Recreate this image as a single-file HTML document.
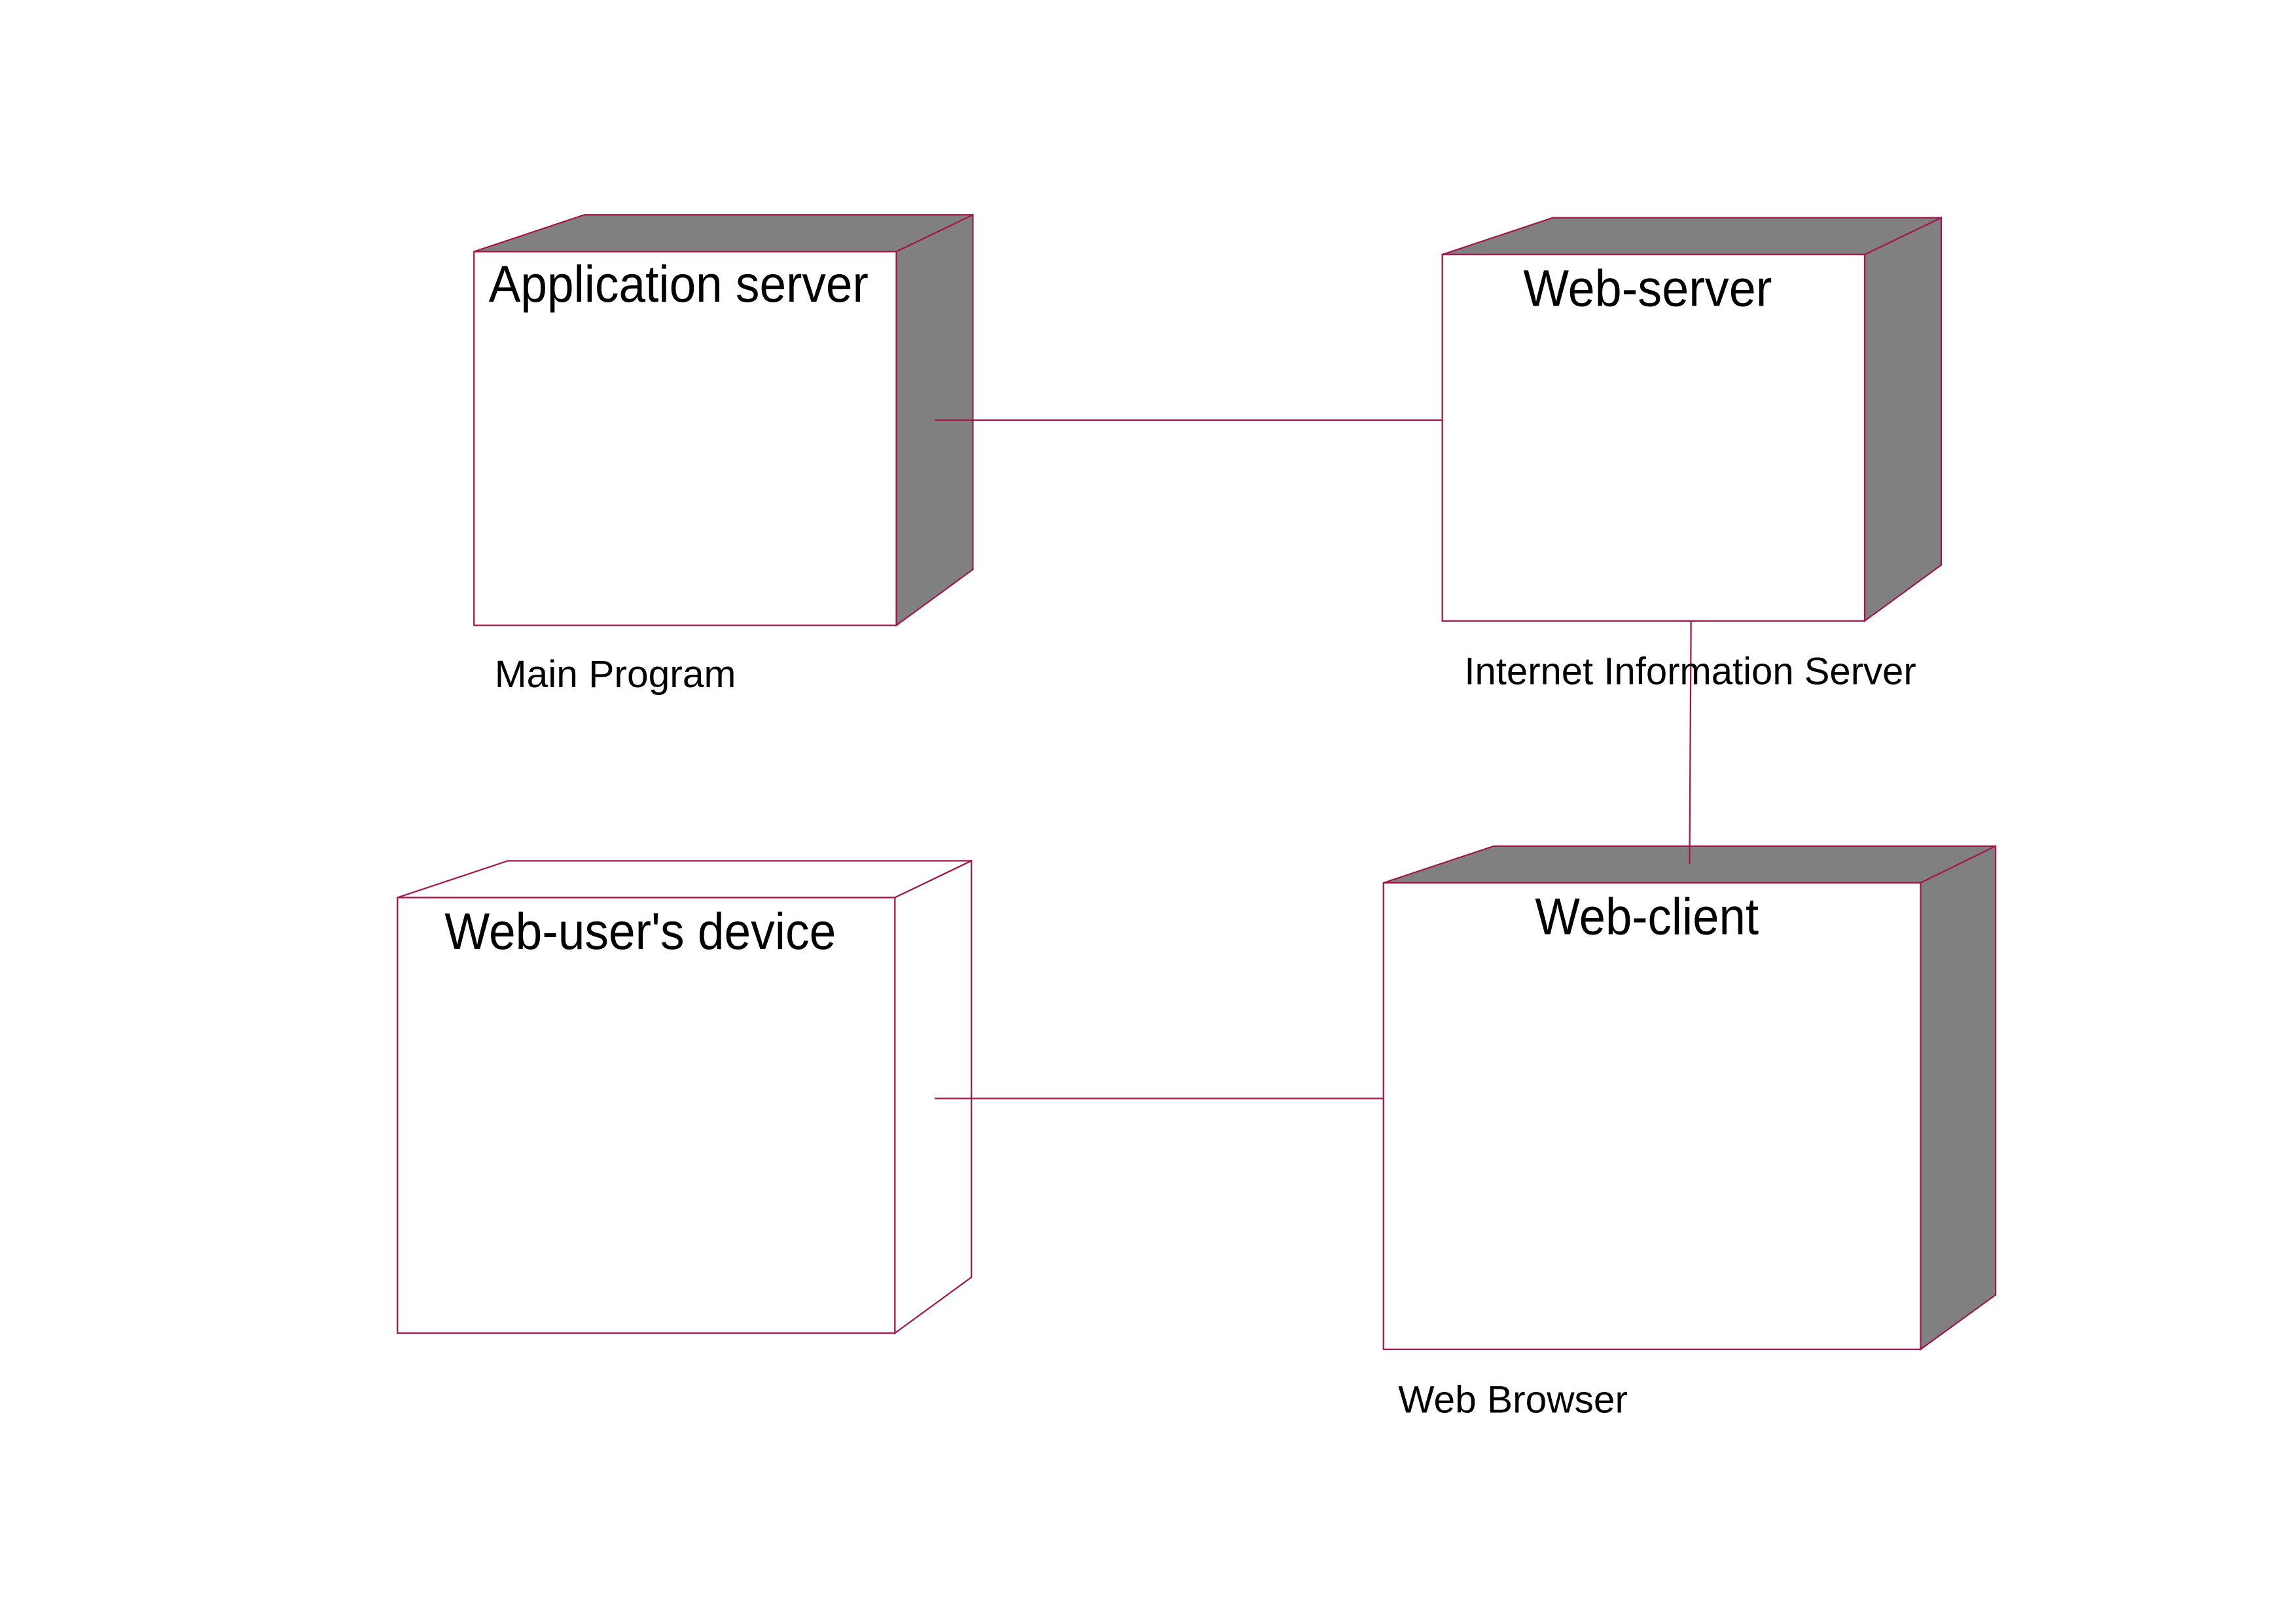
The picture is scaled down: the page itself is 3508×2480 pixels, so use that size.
<!DOCTYPE html>
<html><head><meta charset="utf-8"><style>
html,body{margin:0;padding:0;background:#fff;}
svg{display:block;}
text{font-family:"Liberation Sans",Arial,sans-serif;fill:#000;}
</style></head><body>
<svg width="3508" height="2480" viewBox="0 0 1560 1103" xmlns="http://www.w3.org/2000/svg">
<rect width="1560" height="1103" fill="#fff"/>
<g stroke="#a3184c" stroke-width="1" stroke-linejoin="miter">
<polygon points="322,171 397,146 661,146 609,171" fill="#808080"/>
<polygon points="609,171 661,146 661,387 609,425" fill="#808080"/>
<rect x="322" y="171" width="287" height="254" fill="#fff"/>
<polygon points="980,173 1055,148 1319,148 1267,173" fill="#808080"/>
<polygon points="1267,173 1319,148 1319,384 1267,422" fill="#808080"/>
<rect x="980" y="173" width="287" height="249" fill="#fff"/>
<polygon points="270,610 345,585 660,585 608,610" fill="#fff"/>
<polygon points="608,610 660,585 660,868 608,906" fill="#fff"/>
<rect x="270" y="610" width="338" height="296" fill="#fff"/>
<polygon points="940,600 1015,575 1356,575 1305,600" fill="#808080"/>
<polygon points="1305,600 1356,575 1356,880 1305,917" fill="#808080"/>
<rect x="940" y="600" width="365" height="317" fill="#fff"/>
<line x1="635" y1="285.5" x2="980" y2="285.5"/>
<line x1="1149" y1="422" x2="1148" y2="587"/>
<line x1="635" y1="746.5" x2="940" y2="746.5"/>
</g>
<g lengthAdjust="spacingAndGlyphs">
<text x="332" y="205" font-size="35" textLength="258" lengthAdjust="spacingAndGlyphs">Application server</text>
<text x="1035" y="208" font-size="35" textLength="169" lengthAdjust="spacingAndGlyphs">Web-server</text>
<text x="302" y="645" font-size="35" textLength="266" lengthAdjust="spacingAndGlyphs">Web-user's device</text>
<text x="1043" y="635" font-size="35" textLength="152" lengthAdjust="spacingAndGlyphs">Web-client</text>
<text x="336" y="467" font-size="26" textLength="164" lengthAdjust="spacingAndGlyphs">Main Program</text>
<text x="995" y="465" font-size="26" textLength="307" lengthAdjust="spacingAndGlyphs">Internet Information Server</text>
<text x="950" y="960" font-size="26" textLength="156" lengthAdjust="spacingAndGlyphs">Web Browser</text>
</g>
</svg>
</body></html>
